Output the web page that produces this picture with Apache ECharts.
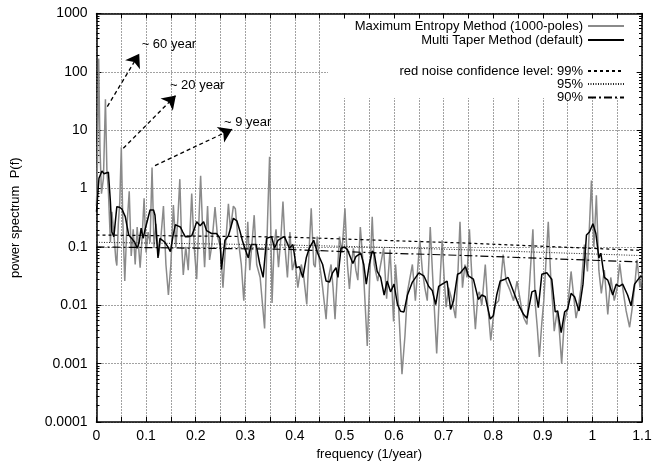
<!DOCTYPE html>
<html>
<head>
<meta charset="utf-8">
<script src="https://cdn.jsdelivr.net/npm/echarts@6/dist/echarts.min.js"></script>
<style>
html,body{margin:0;padding:0;background:#fff;}
#chart{width:664px;height:466px;}
</style>
</head>
<body>
<div id="chart"></div>
<script>
// ---------- data ----------
const xTickLabels = ['0','0.1','0.2','0.3','0.4','0.5','0.6','0.7','0.8','0.9','1','1.1'];
const yTickLabels = ['0.0001','0.001','0.01','0.1','1','10','100','1000'];

const seriesNames = ['Maximum Entropy Method (1000-poles)','Multi Taper Method (default)',
  'red noise confidence level: 99%','95%','90%'];

// Maximum Entropy Method spectrum: [frequency, power]
const memPoints = [
[0.000,0.5],[0.002,3],[0.0044,170],[0.007,5],[0.010,0.82],[0.014,1.5],[0.018,34],[0.021,2],[0.024,0.9],
[0.028,0.12],[0.031,0.4],[0.035,0.17],[0.039,0.06],[0.041,0.048],[0.044,0.25],[0.047,0.6],[0.050,5.1],
[0.053,0.3],[0.057,0.026],[0.061,0.2],[0.066,0.9],[0.070,0.07],[0.074,0.2],[0.078,0.05],[0.082,0.22],
[0.088,0.044],[0.092,0.15],[0.096,0.68],[0.100,0.08],[0.104,0.18],[0.108,0.12],[0.112,2.3],[0.116,0.1],
[0.120,0.25],[0.125,0.07],[0.130,0.15],[0.135,0.5],[0.140,0.05],[0.145,0.015],[0.150,0.05],[0.155,0.52],
[0.160,0.1],[0.164,0.3],[0.168,1.45],[0.172,0.1],[0.175,0.033],[0.180,0.1],[0.185,0.04],[0.192,0.82],
[0.197,0.1],[0.202,0.028],[0.210,1.65],[0.214,0.2],[0.218,0.045],[0.224,0.5],[0.228,0.06],[0.232,0.1],
[0.239,0.48],[0.244,0.15],[0.250,0.1],[0.255,0.02],[0.260,0.1],[0.266,0.55],[0.270,0.2],[0.276,0.5],
[0.280,0.45],[0.285,0.15],[0.292,0.05],[0.297,0.012],[0.301,0.05],[0.305,0.27],[0.309,0.04],[0.313,0.1],
[0.318,0.35],[0.323,0.05],[0.330,0.03],[0.339,0.004],[0.345,0.3],[0.349,3.5],[0.354,0.011],[0.358,0.1],
[0.362,0.2],[0.367,0.045],[0.372,0.15],[0.376,0.6],[0.381,0.08],[0.385,0.03],[0.390,0.18],[0.395,0.04],
[0.400,0.06],[0.406,0.02],[0.413,0.05],[0.418,0.03],[0.424,0.0103],[0.429,0.1],[0.433,0.46],[0.438,0.05],
[0.441,0.045],[0.445,0.15],[0.450,0.05],[0.456,0.02],[0.463,0.0058],[0.468,0.03],[0.473,0.05],[0.477,0.02],
[0.481,0.0058],[0.486,0.04],[0.490,0.15],[0.495,0.08],[0.501,0.46],[0.506,0.05],[0.510,0.019],[0.514,0.05],
[0.518,0.095],[0.523,0.04],[0.527,0.027],[0.532,0.22],[0.536,0.08],[0.540,0.02],[0.546,0.002],[0.551,0.03],
[0.556,0.33],[0.560,0.05],[0.567,0.026],[0.573,0.05],[0.579,0.095],[0.585,0.013],[0.592,0.09],[0.599,0.0053],
[0.603,0.05],[0.609,0.01],[0.616,0.00066],[0.622,0.003],[0.627,0.017],[0.637,0.05],[0.643,0.012],[0.652,0.13],
[0.657,0.04],[0.662,0.02],[0.667,0.012],[0.673,0.22],[0.678,0.03],[0.686,0.0015],[0.692,0.02],[0.697,0.13],
[0.701,0.03],[0.705,0.0093],[0.710,0.02],[0.714,0.015],[0.719,0.01],[0.724,0.006],[0.729,0.04],[0.733,0.27],
[0.738,0.02],[0.743,0.05],[0.747,0.03],[0.752,0.2],[0.757,0.03],[0.764,0.0039],[0.769,0.015],[0.772,0.017],
[0.777,0.01],[0.779,0.0093],[0.784,0.05],[0.789,0.01],[0.795,0.0025],[0.800,0.006],[0.804,0.0103],[0.811,0.012],
[0.816,0.03],[0.820,0.074],[0.826,0.026],[0.834,0.018],[0.841,0.012],[0.848,0.026],[0.857,0.009],[0.862,0.006],
[0.868,0.0047],[0.874,0.03],[0.880,0.2],[0.885,0.01],[0.889,0.004],[0.893,0.0013],[0.898,0.005],[0.902,0.012],
[0.906,0.05],[0.911,0.27],[0.916,0.03],[0.920,0.01],[0.923,0.0036],[0.929,0.008],[0.933,0.004],[0.938,0.001],
[0.943,0.005],[0.950,0.009],[0.957,0.038],[0.962,0.015],[0.967,0.006],[0.972,0.01],[0.977,0.02],[0.984,0.11],
[0.990,0.038],[0.998,1.38],[1.003,0.1],[1.008,0.77],[1.013,0.04],[1.018,0.016],[1.024,0.04],[1.028,0.015],
[1.031,0.007],[1.037,0.03],[1.044,0.012],[1.050,0.02],[1.055,0.052],[1.061,0.02],[1.068,0.008],[1.075,0.0042],
[1.081,0.01],[1.086,0.025],[1.090,0.06],[1.096,0.02],[1.100,0.035]
];

// Multi Taper Method spectrum: [frequency, power]
const mtmPoints = [
[0.000,0.4],[0.005,1.5],[0.011,2.0],[0.015,1.8],[0.019,1.9],[0.024,1.9],[0.028,0.6],[0.031,0.18],[0.035,0.15],
[0.041,0.49],[0.046,0.48],[0.051,0.45],[0.058,0.33],[0.065,0.16],[0.071,0.14],[0.077,0.12],[0.082,0.095],
[0.086,0.12],[0.090,0.21],[0.094,0.14],[0.098,0.2],[0.102,0.27],[0.108,0.43],[0.115,0.43],[0.118,0.35],
[0.124,0.065],[0.128,0.14],[0.133,0.13],[0.138,0.12],[0.144,0.1],[0.149,0.083],[0.154,0.15],[0.159,0.24],
[0.164,0.23],[0.169,0.22],[0.174,0.18],[0.179,0.15],[0.185,0.15],[0.192,0.155],[0.197,0.2],[0.202,0.27],
[0.209,0.23],[0.216,0.27],[0.222,0.19],[0.232,0.17],[0.242,0.17],[0.249,0.14],[0.252,0.041],[0.259,0.13],
[0.266,0.155],[0.276,0.31],[0.283,0.28],[0.289,0.19],[0.294,0.13],[0.299,0.095],[0.306,0.065],[0.312,0.11],
[0.322,0.11],[0.329,0.052],[0.336,0.03],[0.343,0.14],[0.353,0.15],[0.359,0.095],[0.366,0.13],[0.372,0.14],
[0.379,0.15],[0.389,0.095],[0.396,0.11],[0.403,0.044],[0.409,0.046],[0.416,0.03],[0.423,0.065],[0.429,0.095],
[0.438,0.13],[0.446,0.078],[0.456,0.05],[0.463,0.026],[0.470,0.025],[0.476,0.036],[0.483,0.044],[0.487,0.03],
[0.493,0.095],[0.500,0.1],[0.506,0.09],[0.511,0.07],[0.517,0.052],[0.523,0.068],[0.533,0.078],[0.539,0.05],
[0.544,0.023],[0.550,0.05],[0.556,0.085],[0.560,0.078],[0.566,0.038],[0.573,0.03],[0.580,0.015],[0.586,0.026],
[0.593,0.017],[0.600,0.023],[0.607,0.0103],[0.613,0.0079],[0.620,0.0077],[0.627,0.015],[0.637,0.025],
[0.650,0.036],[0.660,0.032],[0.670,0.021],[0.677,0.018],[0.684,0.0103],[0.690,0.021],[0.697,0.023],
[0.707,0.026],[0.714,0.0085],[0.720,0.012],[0.728,0.034],[0.734,0.036],[0.744,0.046],[0.750,0.032],
[0.760,0.028],[0.770,0.0126],[0.777,0.015],[0.784,0.014],[0.794,0.0058],[0.800,0.0066],[0.807,0.015],
[0.814,0.026],[0.824,0.028],[0.830,0.03],[0.841,0.017],[0.851,0.0103],[0.861,0.007],[0.868,0.006],
[0.878,0.017],[0.885,0.018],[0.891,0.0091],[0.898,0.034],[0.908,0.036],[0.918,0.028],[0.925,0.0077],
[0.930,0.008],[0.937,0.0034],[0.944,0.0077],[0.950,0.0085],[0.957,0.016],[0.964,0.014],[0.973,0.008],
[0.981,0.023],[0.988,0.16],[0.994,0.18],[1.001,0.25],[1.007,0.17],[1.013,0.065],[1.017,0.078],[1.024,0.03],
[1.031,0.027],[1.041,0.015],[1.048,0.023],[1.054,0.021],[1.061,0.023],[1.071,0.015],[1.078,0.0098],
[1.085,0.023],[1.091,0.027],[1.098,0.032],[1.100,0.03]
];

// red-noise confidence levels
const redNoiseFreq = [0, 0.38, 0.55, 0.75, 1.1];
const redNoise99 = [0.16, 0.148, 0.132, 0.116, 0.087];
const redNoise95 = [0.12, 0.108, 0.100, 0.089, 0.071];
const redNoise90 = [0.10, 0.091, 0.080, 0.071, 0.055];

// annotation arrows: [start freq, start power, end freq, end power], label
const arrowLines = [[0.0218,25.4,0.0862,205],[0.054,4.9,0.160,39.5],[0.118,2.48,0.2736,10.4]];
const arrowTexts = [['~ 60 year',0.091,291],['~ 20 year',0.148,58.5],['~ 9 year',0.257,13.6]];

// ---------- chart ----------
const FONT = 'Liberation Sans, Arial, Helvetica, sans-serif';
const chart = echarts.init(document.getElementById('chart'), null, {renderer:'canvas'});
const zip = (xs, ys) => xs.map((x, i) => [x, ys[i]]);
const gridDot = {show:true, lineStyle:{color:'#444', type:[1,2], width:1}};
const tickIn = {show:true, inside:true, length:5, lineStyle:{color:'#000', width:1}};
const axisLineBlack = {show:true, onZero:false, lineStyle:{color:'#000', width:1.5}};

const legendTops = [19.5, 33.5, 64.5, 77.5, 91];
const legends = seriesNames.map((n, i) => ({
  data:[n], right:39, top:legendTops[i], orient:'vertical', align:'right',
  itemWidth:36, itemHeight:12, padding:0, itemGap:0, selectedMode:false,
  itemStyle:{opacity:0},
  textStyle:{fontFamily:FONT, fontSize:13, color:'#000'}
}));

const option = {
  animation:false,
  backgroundColor:'#fff',
  grid:{left:96.5, right:22, top:13.5, bottom:41, containLabel:false},
  legend: legends,
  graphic:[{type:'rect', z:1, shape:{x:328, y:19, width:308, height:79}, style:{fill:'#fff'}, silent:true}],
  xAxis:[{
    type:'value', min:0, max:1.1, interval:0.05,
    name:'frequency (1/year)', nameLocation:'middle', nameGap:26,
    nameTextStyle:{fontFamily:FONT, fontSize:13, color:'#000'},
    axisLine:axisLineBlack, axisTick:tickIn, splitLine:gridDot,
    axisLabel:{margin:7, fontFamily:FONT, fontSize:14, color:'#000',
      formatter:v => { const k = Math.round(v*20); return k % 2 === 0 ? xTickLabels[k/2] : ''; }}
  },{
    type:'value', position:'top', min:0, max:1.1, interval:0.05,
    axisLine:axisLineBlack, axisTick:tickIn, splitLine:{show:false}, axisLabel:{show:false}
  }],
  yAxis:[{
    type:'log', logBase:10, min:0.0001, max:1000,
    name:'power spectrum  P(f)', nameLocation:'middle', nameGap:75,
    nameTextStyle:{fontFamily:FONT, fontSize:13, color:'#000'},
    axisLine:axisLineBlack, axisTick:tickIn,
    minorTick:{show:true, splitNumber:10, length:3, lineStyle:{color:'#000'}},
    splitLine:gridDot,
    axisLabel:{margin:9, fontFamily:FONT, fontSize:14, color:'#000',
      formatter:v => yTickLabels[Math.round(Math.log10(v)) + 4]}
  },{
    type:'log', logBase:10, min:0.0001, max:1000, position:'right',
    axisLine:axisLineBlack, axisTick:tickIn,
    minorTick:{show:true, splitNumber:10, length:3, lineStyle:{color:'#000'}},
    splitLine:{show:false}, axisLabel:{show:false}
  }],
  series:[
    {name:seriesNames[0], type:'line', data:memPoints, symbol:'none', showSymbol:false,
     lineStyle:{color:'#8a8a8a', width:1.5}, itemStyle:{color:'#8a8a8a'}, z:2},
    {name:seriesNames[1], type:'line', data:mtmPoints, symbol:'none', showSymbol:false,
     lineStyle:{color:'#000', width:1.5}, itemStyle:{color:'#000'}, z:3,
     markLine:{silent:true, symbol:['none','arrow'], symbolSize:13, label:{show:false},
       lineStyle:{color:'#000', width:1.3, type:[4,3]}, itemStyle:{color:'#000'},
       data: arrowLines.map(a => [{coord:[a[0],a[1]]},{coord:[a[2],a[3]]}])},
     markPoint:{silent:true, symbol:'circle', symbolSize:0,
       label:{show:true, position:'right', distance:0, color:'#000', fontFamily:FONT, fontSize:13, formatter:'{b}'},
       data: arrowTexts.map(t => ({name:t[0], coord:[t[1], t[2]]}))}},
    {name:seriesNames[2], type:'line', data:zip(redNoiseFreq, redNoise99), symbol:'none', showSymbol:false,
     lineStyle:{color:'#000', width:1.2, type:[3,3]}, itemStyle:{color:'#000'}, z:4},
    {name:seriesNames[3], type:'line', data:zip(redNoiseFreq, redNoise95), symbol:'none', showSymbol:false,
     lineStyle:{color:'#222', width:1, type:[1,1.5]}, itemStyle:{color:'#222'}, z:4},
    {name:seriesNames[4], type:'line', data:zip(redNoiseFreq, redNoise90), symbol:'none', showSymbol:false,
     lineStyle:{color:'#000', width:1.2, type:[8,3,2,3]}, itemStyle:{color:'#000'}, z:4}
  ]
};
chart.setOption(option);
</script>
</body>
</html>
